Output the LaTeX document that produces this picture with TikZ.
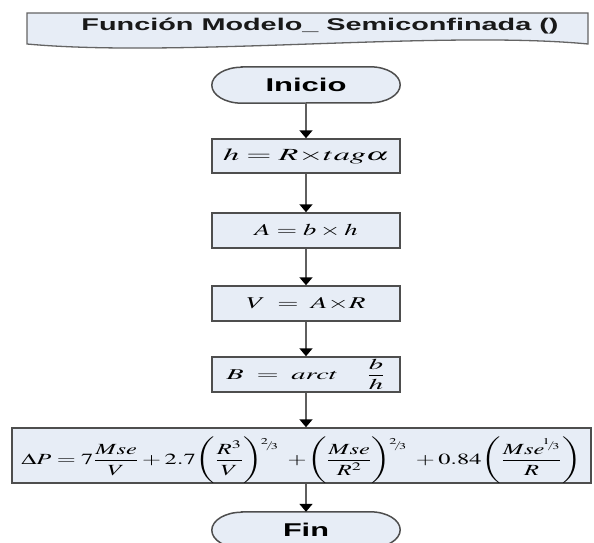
\documentclass[tikz,border=0pt]{standalone}
\usepackage{mathptmx}
\usepackage{fontspec}
\usepackage{graphicx}
\newfontfamily\headfont{Liberation Sans}
\usetikzlibrary{arrows.meta,backgrounds}
\definecolor{boxfill}{RGB}{231,237,246}
\definecolor{boxline}{RGB}{78,78,78}
\definecolor{arrline}{RGB}{95,95,95}
\definecolor{titleline}{RGB}{100,100,100}
\newcommand\fw[2]{\resizebox{#1}{\height}{#2}}
\newcommand\LP{\!\left(\vrule height 28pt depth 21pt width 0pt}
\newcommand\RP{\right)}
\newcommand\sfr[2]{\mbox{\fontsize{9}{9}\selectfont\raisebox{0.45em}{$#1$}\kern-0.15em$/$\kern-0.15em\raisebox{-0.1em}{$#2$}}}
\newcommand\EXP[2]{^{\!\raisebox{-8pt}{\sfr{#1}{#2}}}}
\newcommand\termpath[1]{%
  \path[termline] ([xshift=30pt]#1.north west) -- ([xshift=-30pt]#1.north east)
    arc[start angle=90,end angle=-90,x radius=30pt,y radius=18pt]
    -- ([xshift=30pt]#1.south west)
    arc[start angle=270,end angle=90,x radius=30pt,y radius=18pt] -- cycle;}
\tikzset{
  procbox/.style={draw=boxline, line width=1.5pt, fill=boxfill, minimum width=188pt,
    minimum height=35pt, inner sep=0pt, text=black},
  termnode/.style={minimum width=188pt, minimum height=36pt, inner sep=0pt, text=black},
  termline/.style={draw=boxline, line width=1.5pt, fill=boxfill},
  titleshape/.style={draw=titleline, line width=1.3pt, fill=boxfill},
  flow/.style={draw=arrline, line width=1.8pt, -{Triangle[width=13pt,length=8pt,black]}},
  headtext/.style={text=black!90}
}
\begin{document}
\begin{tikzpicture}[x=1pt,y=-1pt]
\useasboundingbox (0,0) rectangle (594,543);
\clip (0,0) rectangle (594,543);
% title document shape
\path[titleshape] (27,13) -- (588,13) -- (588,44)
  .. controls (440,30) and (180,58) .. (27,44) -- cycle;
\node[anchor=base, headtext, inner sep=0pt] (title) at (320,30.5)
  {\fw{477pt}{\headfont\bfseries\fontsize{17}{19}\selectfont Función Modelo\_ Semiconfinada ()}};
% nodes
\node[termnode] (ini) at (306,85)
  {\fw{81pt}{\headfont\bfseries\fontsize{18.5}{20}\selectfont Inicio}};
\node[procbox, minimum height=34pt] (b1) at (306,156)
  {\fw{166pt}{\fontsize{17}{19}\selectfont$h = R{\times}tag\alpha$}};
\node[procbox] (b2) at (306,230.5)
  {\fw{103pt}{\fontsize{16.5}{19}\selectfont$A = b \times h$}};
\node[procbox] (b3) at (306,303.5)
  {\fw{119pt}{\fontsize{16.5}{19}\selectfont$V \;=\; A {\times} R$}};
\node[procbox] (b4) at (306,374.5)
  {\fw{159pt}{\fontsize{15}{17}\selectfont$\displaystyle B \;=\; arct\quad \frac{b}{h}$}};
\node[procbox, minimum width=579pt, minimum height=55pt, text height=36pt, text depth=18pt] (big) at (301.5,455.5)
  {\fw{560pt}{\fontsize{15.5}{17}\selectfont$\displaystyle \Delta P = 7\frac{Mse}{V} + 2.7\LP\frac{R^3}{V}\RP\EXP23\; + \LP\frac{Mse}{R^2}\RP\EXP23\; + 0.84\LP\frac{Mse^{\!\sfr13}}{R}\RP$}};
\node[termnode] (fin) at (306,530)
  {\fw{46pt}{\headfont\bfseries\fontsize{18.5}{20}\selectfont Fin}};
% terminator outlines
\begin{pgfonlayer}{background}
  \termpath{ini}
  \termpath{fin}
\end{pgfonlayer}
% connectors
\draw[flow] (ini.south) -- (b1.north);
\draw[flow] (b1.south) -- (b2.north);
\draw[flow] (b2.south) -- (b3.north);
\draw[flow] (b3.south) -- (b4.north);
\draw[flow] (b4.south) -- (b4.south |- big.north);
\draw[flow] (fin.north |- big.south) -- (fin.north);
\end{tikzpicture}
\end{document}
